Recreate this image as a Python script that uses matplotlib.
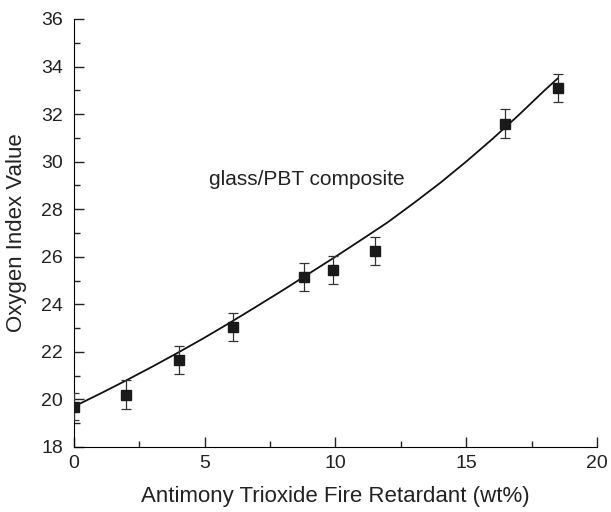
import matplotlib.pyplot as plt
from matplotlib.ticker import MultipleLocator

# antimony trioxide content (wt%) vs oxygen index
sb_content = [0, 2, 4, 6.1, 8.8, 9.9, 11.5, 16.5, 18.5]
oxygen_index = [19.7, 20.2, 21.65, 23.05, 25.15, 25.45, 26.25, 31.6, 33.1]
oi_error = [0.55, 0.6, 0.6, 0.6, 0.6, 0.6, 0.6, 0.6, 0.6]

# fitted curve
fit_x = [0, 1, 2, 3, 4, 5, 6, 7, 8, 9, 10, 11, 12, 13, 14, 15, 16, 17, 18, 18.5]
fit_y = [19.7, 20.24, 20.8, 21.38, 21.98, 22.6, 23.25, 23.92, 24.6, 25.3, 26.0,
         26.72, 27.45, 28.26, 29.1, 30.0, 30.95, 31.95, 33.0, 33.5]


def main():
    plt.rcParams['font.family'] = ['Liberation Sans', 'DejaVu Sans']
    fig = plt.figure(figsize=(6.11, 5.12), dpi=100)
    ax = fig.add_axes([0.121, 0.127, 0.856, 0.836])

    ax.plot(fit_x, fit_y, color='#111111', lw=1.3)

    ax.errorbar(sb_content, oxygen_index, yerr=oi_error, fmt='s', color='#1a1a1a',
                ms=7.5, ecolor='#333333', elinewidth=0.9, capsize=3.8, capthick=0.9,
                zorder=3)

    ax.text(8.9, 29.25, 'glass/PBT composite', fontsize=15, ha='center', va='center',
            color='#222222')

    ax.set_xlim(0, 20)
    ax.set_ylim(18, 36)
    ax.xaxis.set_major_locator(MultipleLocator(5))
    ax.xaxis.set_minor_locator(MultipleLocator(2.5))
    ax.yaxis.set_major_locator(MultipleLocator(2))
    ax.yaxis.set_minor_locator(MultipleLocator(1))
    ax.tick_params(which='both', direction='in', labelsize=14, width=1,
                   color='#222222', labelcolor='#222222')
    ax.tick_params(which='major', length=7)
    ax.tick_params(which='minor', length=4)
    ax.tick_params(axis='y', pad=8)
    ax.tick_params(axis='x', pad=6)
    ax.spines['top'].set_visible(False)
    ax.spines['right'].set_visible(False)
    ax.set_xlabel('Antimony Trioxide Fire Retardant (wt%)', fontsize=16,
                  color='#222222')
    ax.set_ylabel('Oxygen Index Value', fontsize=16, color='#222222')
    ax.xaxis.set_label_coords(0.5, -0.092)
    ax.yaxis.set_label_coords(-0.089, 0.5)

    fig.savefig('out.png', dpi=100)


if __name__ == '__main__':
    main()
